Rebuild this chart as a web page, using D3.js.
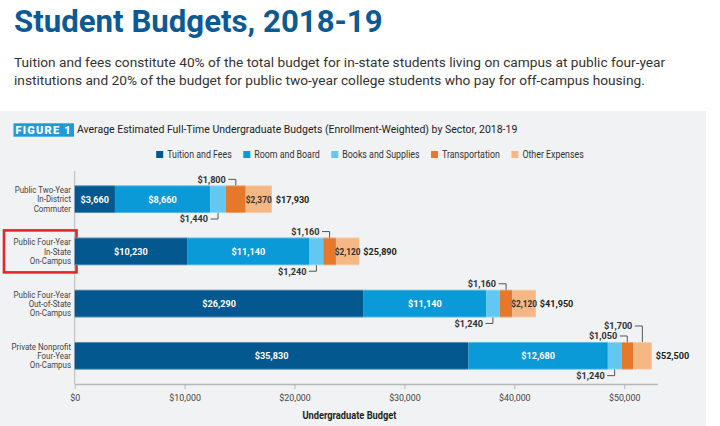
<!DOCTYPE html>
<html><head><meta charset="utf-8">
<script src="https://cdn.jsdelivr.net/npm/d3@7"></script>
<style>
html,body{margin:0;padding:0;background:#fff;}
svg{display:block;}
</style></head>
<body>
<svg id="c" width="720" height="426"></svg>
<script>
// ---- data ----
const categories = [
  ["Public Two-Year","In-District","Commuter"],
  ["Public Four-Year","In-State","On-Campus"],
  ["Public Four-Year","Out-of-State","On-Campus"],
  ["Private Nonprofit","Four-Year","On-Campus"]
];
const seriesNames = ["Tuition and Fees","Room and Board","Books and Supplies","Transportation","Other Expenses"];
const tuition   = [3660, 10230, 26290, 35830];
const room      = [8660, 11140, 11140, 12680];
const books     = [1440, 1240, 1240, 1240];
const transport = [1800, 1160, 1160, 1050];
const other     = [2370, 2120, 2120, 1700];
const totals    = [17930, 25890, 41950, 52500];
const xTicks    = [0, 10000, 20000, 30000, 40000, 50000];
const colors    = ["#02588f","#0a9ad7","#62c8f2","#e5782a","#f5b884"];

const titleText = "Student Budgets, 2018-19";
const subtitleLines = [
  "Tuition and fees constitute 40% of the total budget for in-state students living on campus at public four-year",
  "institutions and 20% of the budget for public two-year college students who pay for off-campus housing."
];
const figLabel = "FIGURE 1";
const figTitle = "Average Estimated Full-Time Undergraduate Budgets (Enrollment-Weighted) by Sector, 2018-19";
const xAxisTitle = "Undergraduate Budget";
const highlighted = 1;

// ---- setup ----
const svg = d3.select("#c");
const MAIN = "Roboto,'Noto Sans',sans-serif";
const CF = 0.85;   // legend condensing
const CN = 0.93;   // number labels condensing
function cond(sel, f = CF) {
  sel.each(function(){
    const X = +this.getAttribute("x") || 0;
    this.setAttribute("transform", `matrix(${f},0,0,1,${X*(1-f)},0)`);
  });
  return sel;
}

svg.append("text").attr("x",14).attr("y",32).text(titleText)
  .attr("font-family",MAIN).attr("font-weight",700).attr("font-size",31.2).attr("fill","#0c5a94");
subtitleLines.forEach((t,i)=>{
  svg.append("text").attr("x",14).attr("y",67+i*18).text(t)
    .attr("font-family",MAIN).attr("font-size",13.7).attr("fill","#333");
});

svg.append("rect").attr("x",0).attr("y",111).attr("width",706).attr("height",315).attr("fill","#f1f2f4");

// figure label
svg.append("rect").attr("x",13.5).attr("y",123.3).attr("width",60.5).attr("height",13.4).attr("fill","#1e9bd7");
svg.append("text").attr("x",43.7).attr("y",134).attr("text-anchor","middle").text(figLabel)
  .attr("font-family",MAIN).attr("font-weight",900).attr("font-size",11).attr("letter-spacing",1.2).attr("fill","#fff");
cond(svg.append("text").attr("x",77).attr("y",133.5).text(figTitle)
  .attr("font-family",MAIN).attr("font-size",11.4).attr("fill","#222"), 0.92);

// scales
const x = d3.scaleLinear().domain([0,53000]).range([74.7,657.2]);
const y = d3.scaleBand().domain(d3.range(categories.length)).range([171,384]).paddingInner(0.47).paddingOuter(0.275);

// legend
const legend = svg.append("g");
let lx = 0;
seriesNames.forEach((n,i)=>{
  const g = legend.append("g").attr("transform",`translate(${lx},0)`);
  g.append("rect").attr("x",0).attr("y",-3.5).attr("width",7).attr("height",7).attr("fill",colors[i]);
  const t = g.append("text").attr("x",11).attr("y",0).attr("dy","0.35em").text(n)
    .attr("font-family",MAIN).attr("font-size",10.4).attr("fill","#333");
  cond(t);
  lx += 11 + t.node().getComputedTextLength()*CF + 11.5;
});
const lw = lx - 11.5;
legend.attr("transform",`translate(${370 - lw/2},154.5)`);

// axes
svg.append("line").attr("x1",x(0)).attr("x2",x(0)).attr("y1",171).attr("y2",384)
  .attr("stroke","#b8b8b8").attr("stroke-width",1);
const xa = svg.append("g").attr("transform","translate(0,384)")
  .call(d3.axisBottom(x).tickValues(xTicks).tickFormat(d3.format("$,")).tickSize(5).tickSizeOuter(0).tickPadding(5));
xa.select(".domain").attr("stroke","#b8b8b8").attr("stroke-width",1.5);
xa.selectAll(".tick line").attr("stroke","#b8b8b8");
xa.selectAll(".tick text").attr("font-family",MAIN).attr("font-size",9.6).attr("fill","#444")
  .attr("transform",`scale(0.92,1)`);
cond(svg.append("text").attr("x",x(25000)).attr("y",415).attr("dy","0.35em").attr("text-anchor","middle")
  .text(xAxisTitle).attr("font-family",MAIN).attr("font-weight",700).attr("font-size",10.2).attr("fill","#222"), 0.91);

// category labels
categories.forEach((lines,i)=>{
  const cy = y(i) + y.bandwidth()/2;
  const t = svg.append("text").attr("x",71).attr("text-anchor","end").attr("font-family",MAIN)
    .attr("font-size",9.3).attr("fill","#444");
  lines.forEach((l,j)=>{
    t.append("tspan").attr("x",71).attr("y",cy + (j-1)*9.3).attr("dy","0.35em").text(l);
  });
  cond(t, 0.85);
  if (i === highlighted) {
    svg.append("rect").attr("x",4).attr("y",cy-21).attr("width",72.5).attr("height",42)
      .attr("fill","none").attr("stroke","#e3262c").attr("stroke-width",2.6);
  }
});

// stacked bars
const rows = categories.map((c,i)=>({i, s0:tuition[i], s1:room[i], s2:books[i], s3:transport[i], s4:other[i]}));
const stack = d3.stack().keys(["s0","s1","s2","s3","s4"])(rows);
const fmt = d3.format("$,");
stack.forEach((layer,k)=>{
  svg.append("g").selectAll("rect").data(layer).join("rect")
    .attr("x",d=>x(d[0])).attr("y",d=>y(d.data.i))
    .attr("width",d=>x(d[1])-x(d[0])).attr("height",y.bandwidth())
    .attr("fill",colors[k]);
});
// light edge lines
rows.forEach(r=>{
  ["top","bottom"].forEach(side=>{
    const yy = side==="top" ? y(r.i)+0.4 : y(r.i)+y.bandwidth()-0.4;
    svg.append("line").attr("x1",x(0)).attr("x2",x(totals[r.i])).attr("y1",yy).attr("y2",yy)
      .attr("stroke","#fff").attr("stroke-opacity",0.45).attr("stroke-width",0.8);
  });
});

// segment labels
rows.forEach(r=>{
  const top = y(r.i), bot = y(r.i)+y.bandwidth(), cy = top + y.bandwidth()/2;
  let aboveLevel = 0;
  stack.forEach((layer,k)=>{
    const d = layer[r.i];
    const v = d[1]-d[0];
    const w = x(d[1])-x(d[0]);
    const cx = (x(d[0])+x(d[1]))/2;
    if (w >= 21) {
      cond(svg.append("text").attr("x",cx).attr("y",cy).attr("dy","0.35em").attr("text-anchor","middle")
        .text(fmt(v)).attr("font-family",MAIN).attr("font-weight",700).attr("font-size",9.8)
        .attr("fill", k===4 ? "#333" : "#fff"), k===4 ? 0.85 : CN);
    } else {
      let ly, edge;
      if (k === 2) { ly = bot + 6; edge = bot; }
      else { ly = top - 6 - aboveLevel*10; edge = top; aboveLevel++; }
      svg.append("path").attr("d",`M${cx-7.5},${ly}H${cx}V${edge}`)
        .attr("fill","none").attr("stroke","#555").attr("stroke-width",1);
      cond(svg.append("text").attr("x",cx-10).attr("y",ly).attr("dy","0.35em").attr("text-anchor","end")
        .text(fmt(v)).attr("font-family",MAIN).attr("font-weight",700).attr("font-size",9.8).attr("fill","#333"), CN);
    }
  });
  cond(svg.append("text").attr("x",x(totals[r.i])+4).attr("y",cy).attr("dy","0.35em")
    .text(fmt(totals[r.i])).attr("font-family",MAIN).attr("font-weight",700).attr("font-size",9.8).attr("fill","#222"), CN);
});
</script>
</body></html>
